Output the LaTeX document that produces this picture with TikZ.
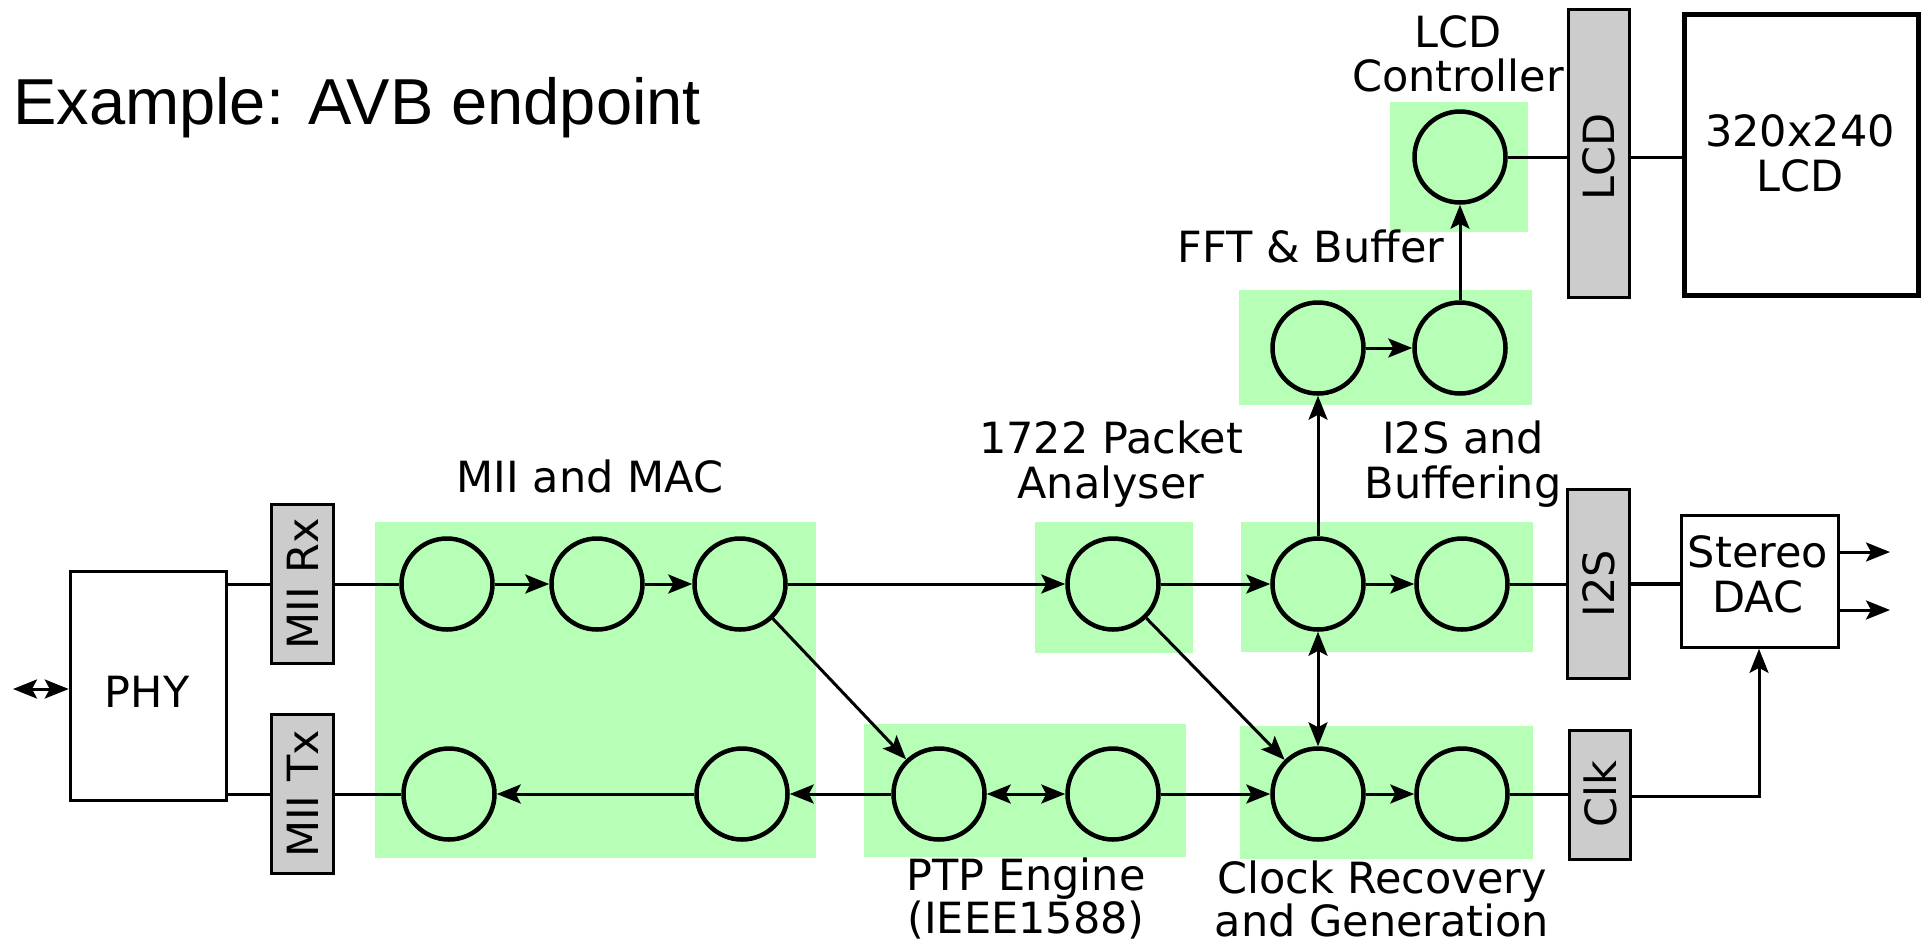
\documentclass[tikz,border=0pt]{standalone}
\usepackage{fontspec}
\setmainfont{DejaVu Sans}
\newfontfamily\titlefont{Liberation Sans}
\usetikzlibrary{arrows.meta}
\definecolor{blockgreen}{RGB}{183,255,183}
\definecolor{portgray}{RGB}{204,204,204}
\begin{document}
\begin{tikzpicture}[x=1pt,y=-1pt,
  >={Stealth[length=24pt,width=19pt,inset=5pt]},
  grp/.style={fill=blockgreen, draw=none, inner sep=0pt, outer sep=0pt},
  proc/.style={circle, draw, line width=4.5pt, fill=blockgreen, minimum size=91pt, inner sep=0pt},
  port/.style={draw, line width=3pt, fill=portgray, inner sep=0pt},
  chip/.style={draw, fill=white, inner sep=0pt},
  lbl/.style={font=\fontsize{43}{45}\selectfont, align=center, inner sep=0pt, anchor=base},
  portlbl/.style={font=\fontsize{43}{45}\selectfont, inner sep=0pt, rotate=90},
  link/.style={line width=3pt},
  flow/.style={line width=3pt, ->}]

\useasboundingbox (0,0) rectangle (1927,946);

% title
\node[font=\titlefont\fontsize{65}{70}\selectfont, anchor=base west, inner sep=0pt] (title) at (13,124) {Example: AVB endpoint};

% functional block backgrounds
\node[grp, minimum width=441pt, minimum height=336pt] (gMAC) at (595.5,690) {};
\node[grp, minimum width=322pt, minimum height=133pt] (gPTP) at (1025,790.5) {};
\node[grp, minimum width=158pt, minimum height=131pt] (gPkt) at (1114,587.5) {};
\node[grp, minimum width=292pt, minimum height=130pt] (gI2S) at (1387,587) {};
\node[grp, minimum width=293pt, minimum height=133pt] (gClk) at (1386.5,792.5) {};
\node[grp, minimum width=293pt, minimum height=115pt] (gFFT) at (1385.5,347.5) {};
\node[grp, minimum width=138pt, minimum height=130pt] (gLCD) at (1459,167) {};

% block labels (anchored at the baseline of the last line)
\node[lbl] (lMAC) at (590,492) {MII and MAC};
\node[lbl] (lPkt) at (1111,498) {1722 Packet\\Analyser};
\node[lbl] (lI2S) at (1463,498) {I2S and\\Buffering};
\node[lbl] (lFFT) at (1311,262) {FFT \& Buffer};
\node[lbl, font=\fontsize{43}{44}\selectfont] (lLCDc) at (1458,91) {LCD\\Controller};
\node[lbl, font=\fontsize{43}{40}\selectfont] (lPTP) at (1026,933) {PTP Engine\\(IEEE1588)};
\node[lbl, font=\fontsize{43}{39}\selectfont] (lClk) at (1382,936) {Clock Recovery\\and Generation};

% processing stages
\node[proc] (m1) at (447,584) {};
\node[proc] (m2) at (597,584) {};
\node[proc] (m3) at (740,584) {};
\node[proc] (m1b) at (449,794) {};
\node[proc] (m3b) at (742,794) {};
\node[proc] (p1) at (939,794) {};
\node[proc] (p2) at (1113,794) {};
\node[proc] (pk) at (1113,584) {};
\node[proc] (i1) at (1318,584) {};
\node[proc] (i2) at (1462,584) {};
\node[proc] (k1) at (1318,794) {};
\node[proc] (k2) at (1462,794) {};
\node[proc] (f1) at (1318,348) {};
\node[proc] (f2) at (1460,348) {};
\node[proc] (lc) at (1460,157) {};

% external parts
\node[chip, line width=3.5pt, minimum width=156pt, minimum height=229pt] (phy) at (148.5,686) {};
\node[lbl] (lPHY) at (147,707) {PHY};
\node[chip, line width=2.7pt, minimum width=157pt, minimum height=132pt] (dac) at (1760,581.5) {};
\node[lbl] (lDAC) at (1758,612) {Stereo\\DAC};
\node[chip, line width=4.5pt, minimum width=234pt, minimum height=281pt] (screen) at (1801.5,155) {};
\node[lbl] (lScreen) at (1800,191) {320x240\\LCD};

% interface ports
\node[port, minimum width=62pt, minimum height=159pt] (rx) at (302.5,584) {};
\node[portlbl] at (rx) {MII Rx};
\node[port, minimum width=62pt, minimum height=159pt] (tx) at (302.5,794) {};
\node[portlbl] at (tx) {MII Tx};
\node[port, minimum width=62pt, minimum height=189pt] (i2sp) at (1598.5,584) {};
\node[portlbl] at (i2sp) {I2S};
\node[port, minimum width=61pt, minimum height=129pt] (clkp) at (1600,795) {};
\node[portlbl] at (clkp.center |- k2) {Clk};
\node[port, minimum width=61pt, minimum height=288pt] (lcdp) at (1599,153.5) {};
\node[portlbl] at (lcdp.center |- lc) {LCD};

% network side
\coordinate (net) at (13,689);
\draw[link, <->] (net) -- (net -| phy.west);
\draw[link] (phy.east |- rx) -- (rx.west);
\draw[link] (rx.east) -- (m1);
\draw[link] (phy.east |- tx) -- (tx.west);
\draw[link] (tx.east) -- (m1b);

% receive path
\draw[flow] (m1) -- (m2);
\draw[flow] (m2) -- (m3);
\draw[flow] (m3) -- (pk);
\draw[flow] (m3) -- (p1);
\draw[flow] (pk) -- (i1);
\draw[flow] (pk) -- (k1);
\draw[flow] (i1) -- (i2);
\draw[flow] (i1) -- (f1);
\draw[link, <->] (i1) -- (k1);
\draw[flow] (f1) -- (f2);
\draw[flow] (f2) -- (lc);

% transmit and timing path
\draw[link, <->] (p1) -- (p2);
\draw[flow] (p1) -- (m3b);
\draw[flow] (m3b) -- (m1b);
\draw[flow] (p2) -- (k1);
\draw[flow] (k1) -- (k2);

% outputs
\draw[link] (lc) -- (lcdp.west |- lc);
\draw[link] (lcdp.east |- lc) -- (screen.west |- lc);
\draw[link] (i2) -- (i2sp.west |- i2);
\draw[line width=4pt] (i2sp.east |- i2) -- (dac.west |- i2);
\draw[link] (k2) -- (clkp.west |- k2);
\coordinate (clkturn) at (1759,796);
\draw[flow] (clkp.east |- clkturn) -- (clkturn) -- (clkturn |- dac.south);
\coordinate (outL) at (1890,552);
\coordinate (outR) at (1890,610);
\draw[flow] (outL -| dac.east) -- (outL);
\draw[flow] (outR -| dac.east) -- (outR);

\end{tikzpicture}
\end{document}
